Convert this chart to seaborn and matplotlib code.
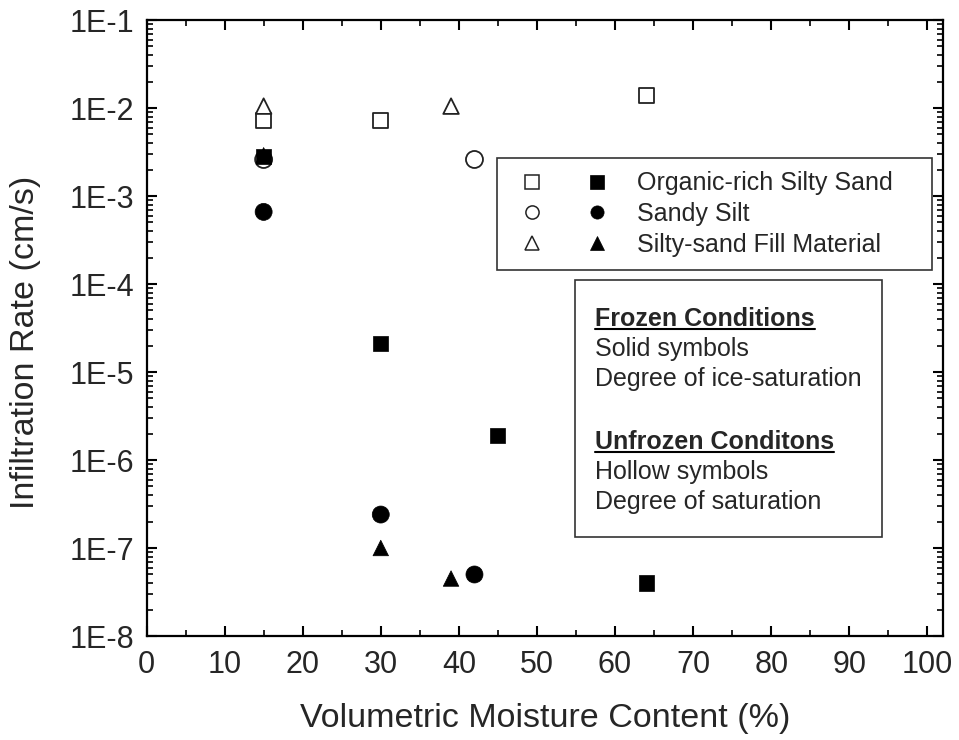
import numpy as np
import pandas as pd
import matplotlib
matplotlib.use("Agg")
import matplotlib.pyplot as plt
import seaborn as sns
from matplotlib.lines import Line2D
from matplotlib.patches import Rectangle
from matplotlib.legend_handler import HandlerTuple
from matplotlib.ticker import FixedLocator, FixedFormatter, LogLocator, NullFormatter, MultipleLocator

# ---------------- data ----------------
soil_types = ["Organic-rich Silty Sand", "Sandy Silt", "Silty-sand Fill Material"]

unfrozen_moisture = [15, 30, 64, 15, 42, 15, 39]
unfrozen_rate = [7.2e-3, 7.2e-3, 1.38e-2, 2.6e-3, 2.6e-3, 1.05e-2, 1.05e-2]
unfrozen_soil = [soil_types[0], soil_types[0], soil_types[0],
                 soil_types[1], soil_types[1],
                 soil_types[2], soil_types[2]]

frozen_moisture = [15, 30, 45, 64, 15, 30, 42, 15, 30, 39]
frozen_rate = [2.8e-3, 2.1e-5, 1.9e-6, 4.0e-8, 6.6e-4, 2.4e-7, 5.0e-8, 2.9e-3, 1.0e-7, 4.5e-8]
frozen_soil = [soil_types[0]] * 4 + [soil_types[1]] * 3 + [soil_types[2]] * 3

y_ticks = [1e-8, 1e-7, 1e-6, 1e-5, 1e-4, 1e-3, 1e-2, 1e-1]
y_tick_labels = ["1E-8", "1E-7", "1E-6", "1E-5", "1E-4", "1E-3", "1E-2", "1E-1"]
x_ticks = [0, 10, 20, 30, 40, 50, 60, 70, 80, 90, 100]

note_lines = ["Frozen Conditions", "Solid symbols", "Degree of ice-saturation", "",
              "Unfrozen Conditons", "Hollow symbols", "Degree of saturation"]

# ---------------- style ----------------
sns.set_style("ticks")
plt.rcParams["font.family"] = ["Liberation Sans", "DejaVu Sans"]

W, H = 959, 740
fig = plt.figure(figsize=(W / 100, H / 100), dpi=100)
ax = fig.add_axes([146.5 / W, 1 - 636 / H, (943 - 146.5) / W, (636 - 20) / H])

marker_map = {soil_types[0]: "s", soil_types[1]: "o", soil_types[2]: "^"}
size_map = {soil_types[0]: 118, soil_types[1]: 150, soil_types[2]: 125}

df_unf = pd.DataFrame({"moisture": unfrozen_moisture, "rate": unfrozen_rate, "soil": unfrozen_soil})
df_fro = pd.DataFrame({"moisture": frozen_moisture, "rate": frozen_rate, "soil": frozen_soil})

sns.scatterplot(data=df_unf, x="moisture", y="rate", style="soil", markers=marker_map,
                size="soil", sizes=size_map,
                color="white", edgecolor="#222222", linewidth=1.3,
                legend=False, ax=ax, zorder=3)
sns.scatterplot(data=df_fro, x="moisture", y="rate", style="soil", markers=marker_map,
                size="soil", sizes=size_map,
                color="black", edgecolor="black", linewidth=0.5,
                legend=False, ax=ax, zorder=4)

ax.set_yscale("log")
ax.set_ylim(1e-8, 1e-1)
ax.set_xlim(0, 102)
ax.yaxis.set_major_locator(FixedLocator(y_ticks))
ax.yaxis.set_major_formatter(FixedFormatter(y_tick_labels))
ax.yaxis.set_minor_locator(LogLocator(base=10, subs=np.arange(2, 10), numticks=20))
ax.yaxis.set_minor_formatter(NullFormatter())
ax.xaxis.set_major_locator(FixedLocator(x_ticks))
ax.xaxis.set_minor_locator(MultipleLocator(5))

for s in ax.spines.values():
    s.set_linewidth(1.6)
    s.set_color("black")
    s.set_visible(True)

ax.tick_params(which="both", direction="in", top=True, right=True, color="black")
ax.tick_params(which="major", length=7.5, width=1.5, labelsize=22)
ax.tick_params(axis="x", which="major", pad=10)
ax.tick_params(axis="y", which="major", pad=9)
ax.tick_params(which="minor", length=4.5, width=1.2)

ax.set_xlabel("Volumetric Moisture Content (%)", fontsize=24.5, labelpad=17)
ax.set_ylabel("Infiltration Rate (cm/s)", fontsize=24.5)
ax.yaxis.set_label_coords(-0.132, 0.476)

# ---------------- legend ----------------
lfs = 18
h_hollow = [Line2D([], [], marker=m, ls="none", mfc="white", mec="#222222", mew=1.1, ms=9.5)
            for m in ["s", "o", "^"]]
h_solid = [Line2D([], [], marker=m, ls="none", mfc="black", mec="black", mew=0.5, ms=9.5)
           for m in ["s", "o", "^"]]
handles = [(a, b) for a, b in zip(h_hollow, h_solid)]
leg = ax.legend(handles, soil_types, handler_map={tuple: HandlerTuple(ndivide=None, pad=0.864)},
                loc="upper left", mode="expand",
                bbox_to_anchor=(497 / W, 1 - 268 / H, (932 - 497) / W, 110 / H),
                bbox_transform=fig.transFigure, borderaxespad=0, borderpad=0.53,
                handlelength=4.336, handletextpad=0.73, labelspacing=0.27,
                fontsize=lfs, frameon=True, fancybox=False, edgecolor="#333333",
                framealpha=1)
leg.get_frame().set_linewidth(1.2)
leg.set_zorder(6)

# ---------------- note box ----------------
box = Rectangle((575 / W, 1 - 537 / H), (882 - 575) / W, (537 - 280) / H,
                transform=fig.transFigure, facecolor="white", edgecolor="#333333",
                linewidth=1.2, zorder=5)
fig.patches.append(box)

baselines = [326, 356, 386, None, 449, 479, 509]
texts = []
for line, yb in zip(note_lines, baselines):
    if yb is None:
        continue
    bold = line in ("Frozen Conditions", "Unfrozen Conditons")
    t = fig.text(595 / W, 1 - yb / H, line, fontsize=lfs, va="baseline", ha="left",
                 fontweight="bold" if bold else "normal", zorder=7)
    if bold:
        texts.append((t, yb))

fig.canvas.draw()
renderer = fig.canvas.get_renderer()
for t, yb in texts:
    bb = t.get_window_extent(renderer)
    yl = 1 - (yb + 3) / H
    fig.add_artist(Line2D([bb.x0 / W, bb.x1 / W], [yl, yl], transform=fig.transFigure,
                          color="black", linewidth=1.5, zorder=7))

fig.savefig("out.png", dpi=100)
